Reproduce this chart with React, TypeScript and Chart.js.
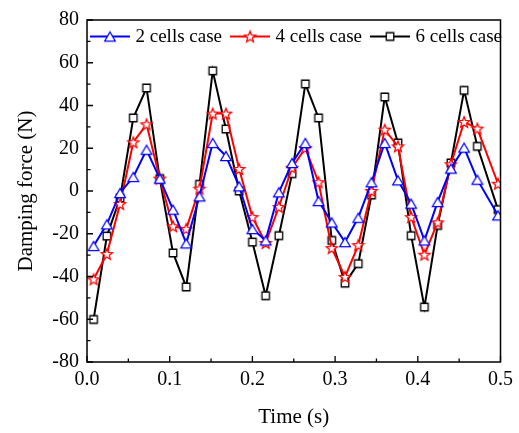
import React, { useEffect, useRef } from "react";
import { Chart, registerables } from "chart.js";

Chart.register(...registerables);

const timeS = [0.008, 0.024, 0.040, 0.056, 0.072, 0.088, 0.104, 0.120, 0.136, 0.152, 0.168, 0.184, 0.200, 0.216, 0.232, 0.248, 0.264, 0.280, 0.296, 0.312, 0.328, 0.344, 0.360, 0.376, 0.392, 0.408, 0.424, 0.440, 0.456, 0.472, 0.497];
const cells2 = [-25.7, -15.6, -0.9, 6.6, 19.3, 5.8, -8.7, -24.5, -2.5, 22.5, 16.4, 2.2, -17.8, -23.1, -0.6, 13.1, 22.5, -4.7, -14.7, -23.9, -12.5, 4.1, 22.5, 5.0, -5.9, -23.1, -5.1, 10.5, 20.3, 5.3, -11.4];
const cells4 = [-41.3, -29.5, -6.1, 22.8, 31.2, 5.8, -16.5, -17.7, 1.1, 36.2, 36.2, 10.3, -12.2, -24.3, -7.5, 10.9, 20.1, 4.1, -26.7, -40.2, -25.3, 0.0, 28.7, 20.9, -12.2, -29.8, -14.7, 12.5, 32.3, 29.2, 3.4];
const cells6 = [-60.1, -21.1, -3.3, 34.2, 48.2, 5.8, -29.0, -44.9, 3.1, 56.2, 29.0, 0.0, -23.9, -49.0, -20.9, 8.1, 50.1, 34.2, -23.1, -43.1, -34.0, -1.9, 44.0, 22.5, -20.9, -54.3, -16.1, 13.1, 47.1, 20.9, -8.7];

const seriesNames = ["2 cells case", "4 cells case", "6 cells case"];
const seriesColors = ["#0000ff", "#ff0000", "#000000"];
const seriesShapes = ["triangle", "star", "square"];
const xTickValues = [0, 0.1, 0.2, 0.3, 0.4, 0.5];
const xMinorValues = [0.05, 0.15, 0.25, 0.35, 0.45];
const yTickValues = [-80, -60, -40, -20, 0, 20, 40, 60, 80];
const yMinorValues = [-70, -50, -30, -10, 10, 30, 50, 70];

const FONT = "'Liberation Serif', 'Times New Roman', serif";

function makeMarker(shape: string, color: string): HTMLCanvasElement {
  const c = document.createElement("canvas");
  c.width = 16;
  c.height = 16;
  const g = c.getContext("2d")!;
  g.strokeStyle = color;
  g.fillStyle = "#ffffff";
  g.lineWidth = 1.3;
  g.beginPath();
  if (shape === "triangle") {
    const s = 10.5;
    const h = (s * Math.sqrt(3)) / 2;
    g.moveTo(8, 8 - h / 2);
    g.lineTo(8 + s / 2, 8 + h / 2);
    g.lineTo(8 - s / 2, 8 + h / 2);
    g.closePath();
  } else if (shape === "star") {
    for (let k = 0; k < 10; k++) {
      const r = k % 2 === 0 ? 5.8 : 2.5;
      const a = -Math.PI / 2 + (k * Math.PI) / 5;
      const px = 8 + r * Math.cos(a);
      const py = 8.5 + r * Math.sin(a);
      if (k === 0) g.moveTo(px, py);
      else g.lineTo(px, py);
    }
    g.closePath();
  } else {
    g.rect(4.25, 4.25, 7.5, 7.5);
  }
  g.fill();
  g.stroke();
  return c;
}

export default function App() {
  const ref = useRef<HTMLCanvasElement | null>(null);

  useEffect(() => {
    if (!ref.current) return;
    const markers = seriesShapes.map((s, i) => makeMarker(s, seriesColors[i]));
    const seriesValues = [cells2, cells4, cells6];

    const framePlugin = {
      id: "frameAndLegend",
      afterDatasetsDraw(chart: any) {
        const ctx = chart.ctx;
        const { left, right, top, bottom } = chart.chartArea;
        const xs = chart.scales.x;
        const ys = chart.scales.y;
        ctx.save();
        ctx.strokeStyle = "#000";
        ctx.lineWidth = 1.5;
        ctx.strokeRect(left, top, right - left, bottom - top);
        ctx.lineWidth = 1.3;
        ctx.beginPath();
        xTickValues.forEach((v) => {
          const p = xs.getPixelForValue(v);
          ctx.moveTo(p, bottom);
          ctx.lineTo(p, bottom - 6);
        });
        xMinorValues.forEach((v) => {
          const p = xs.getPixelForValue(v);
          ctx.moveTo(p, bottom);
          ctx.lineTo(p, bottom - 3.5);
        });
        yTickValues.forEach((v) => {
          const p = ys.getPixelForValue(v);
          ctx.moveTo(left, p);
          ctx.lineTo(left + 6, p);
        });
        yMinorValues.forEach((v) => {
          const p = ys.getPixelForValue(v);
          ctx.moveTo(left, p);
          ctx.lineTo(left + 3.5, p);
        });
        ctx.stroke();

        // legend
        ctx.font = `19px ${FONT}`;
        ctx.textBaseline = "middle";
        ctx.textAlign = "left";
        let x = left + 3;
        const y = top + 16.5;
        seriesNames.forEach((name, i) => {
          ctx.strokeStyle = seriesColors[i];
          ctx.lineWidth = 2;
          ctx.beginPath();
          ctx.moveTo(x, y);
          ctx.lineTo(x + 40, y);
          ctx.stroke();
          const m = markers[i];
          ctx.drawImage(m, x + 20 - m.width / 2, y - m.height / 2);
          ctx.fillStyle = "#000";
          ctx.fillText(name, x + 45.5, y + 1);
          x += 45.5 + ctx.measureText(name).width + 8;
        });
        ctx.restore();
      },
    };

    const chart = new Chart(ref.current, {
      type: "line",
      data: {
        datasets: seriesNames.map((name, i) => ({
          label: name,
          data: timeS.map((t, k) => ({ x: t, y: seriesValues[i][k] })),
          borderColor: seriesColors[i],
          backgroundColor: "#ffffff",
          borderWidth: 2,
          pointStyle: markers[i] as any,
          pointRadius: 5,
          tension: 0,
          fill: false,
        })),
      },
      options: {
        animation: false,
        responsive: false,
        devicePixelRatio: 1,
        layout: { padding: { left: 0, right: 14, top: 20, bottom: 0 } },
        plugins: {
          legend: { display: false },
          tooltip: { enabled: false },
        },
        scales: {
          x: {
            type: "linear",
            min: 0,
            max: 0.5,
            afterBuildTicks: (s: any) => {
              s.ticks = xTickValues.map((v) => ({ value: v }));
            },
            afterFit: (s: any) => {
              s.height = 71;
            },
            ticks: {
              callback: (v: any) => Number(v).toFixed(1),
              font: { family: FONT, size: 20 },
              color: "#000",
              padding: 6,
              maxRotation: 0,
              autoSkip: false,
            },
            grid: { display: false, drawTicks: false },
            border: { display: false },
            title: {
              display: true,
              text: "Time (s)",
              font: { family: FONT, size: 21 },
              color: "#000",
              padding: { top: 0, bottom: 3 },
            },
          },
          y: {
            type: "linear",
            min: -80,
            max: 80,
            afterBuildTicks: (s: any) => {
              s.ticks = yTickValues.map((v) => ({ value: v }));
            },
            afterFit: (s: any) => {
              s.width = 87;
            },
            ticks: {
              callback: (v: any) => String(v),
              font: { family: FONT, size: 20 },
              color: "#000",
              padding: 8,
              autoSkip: false,
            },
            grid: { display: false, drawTicks: false },
            border: { display: false },
            title: {
              display: true,
              text: "Damping force (N)",
              font: { family: FONT, size: 21 },
              color: "#000",
              padding: { top: 14, bottom: 0 },
            },
          },
        },
      },
      plugins: [framePlugin],
    });
    return () => chart.destroy();
  }, []);

  return (
    <div style={{ position: "fixed", left: 0, top: 0, width: 519, height: 433, background: "#fff" }}>
      <canvas ref={ref} width={519} height={433} />
    </div>
  );
}
